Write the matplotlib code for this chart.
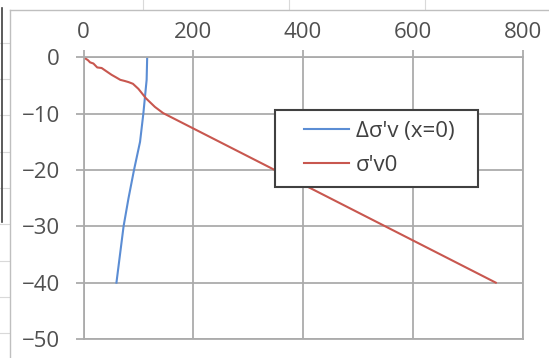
import matplotlib.pyplot as plt
from matplotlib.lines import Line2D
from matplotlib.legend_handler import HandlerLine2D

plt.rcParams["font.family"] = ["Open Sans", "DejaVu Sans"]

# data
blue_label = "Δσ'v (x=0)"
blue_val = [116, 115.5, 115, 112, 109, 103, 92, 82, 73, 66.5, 60]
blue_depth = [0, -2, -4, -7, -10, -15, -20, -25, -30, -35, -40]

red_label = "σ'v0"
red_val = [0, 8, 12, 18, 25, 33, 42, 51, 60, 67, 75, 82, 90, 100, 114, 130, 145, 751]
red_depth = [0, -0.5, -0.9, -1.1, -1.8, -1.9, -2.5, -3.1, -3.6, -4.0, -4.2, -4.4,
             -4.7, -5.6, -7.3, -8.8, -9.9, -40]

xticks = [0, 200, 400, 600, 800]
yticks = [0, -10, -20, -30, -40, -50]

W, H = 549, 358
grid_c = "#ababab"


class ShortLine(HandlerLine2D):
    # Excel leaves a gap before the legend line
    def create_artists(self, legend, orig_handle, xdescent, ydescent,
                       width, height, fontsize, trans):
        yy = (height - ydescent) / 2
        ln = Line2D([width * 0.285 - xdescent, width - xdescent], [yy, yy],
                    color=orig_handle.get_color(), lw=orig_handle.get_linewidth())
        ln.set_transform(trans)
        return [ln]


fig = plt.figure(figsize=(W / 100, H / 100), dpi=100)

# bits of the spreadsheet around the chart
cell_c = "#d9d9d9"
for yy in [43, 79, 115, 152, 188, 224, 261, 297, 333]:
    fig.add_artist(Line2D([0, 9 / W], [1 - yy / H] * 2, color=cell_c, lw=0.8))
for xx in [143, 289, 425]:
    fig.add_artist(Line2D([xx / W] * 2, [1, 1 - 9 / H], color=cell_c, lw=0.8))
fig.add_artist(Line2D([1.5 / W] * 2, [1 - 8 / H, 1 - 222 / H], color="#404040", lw=1.2))
fig.add_artist(Line2D([9.5 / W] * 2, [0, 1 - 10 / H], color="#bfbfbf", lw=1.0))
fig.add_artist(Line2D([9.5 / W, 1], [1 - 10 / H] * 2, color="#bfbfbf", lw=1.0))

x0, x1 = 83.5, 522.7
y0, y1 = 57.3, 339
ax = fig.add_axes([x0 / W, 1 - y1 / H, (x1 - x0) / W, (y1 - y0) / H])

ax.plot(blue_val, blue_depth, color="#5b8dd4", lw=1.5, label=blue_label)
ax.plot(red_val, red_depth, color="#c8574f", lw=1.5, label=red_label)

ax.set_xlim(0, 800)
ax.set_ylim(-50, 0)
ax.set_xticks(xticks)
ax.set_yticks(yticks)
ax.xaxis.tick_top()
ax.grid(True, color=grid_c, lw=1.3)
ax.set_axisbelow(True)
for s in ax.spines.values():
    s.set_color(grid_c)
    s.set_linewidth(1.3)
ax.tick_params(axis="x", length=5, width=1.3, color=grid_c, pad=5,
               labelsize=16, labelcolor="#505050")
ax.tick_params(axis="y", length=6, width=1.3, color=grid_c, pad=11,
               labelsize=16, labelcolor="#505050")

leg = ax.legend(loc="upper left",
                bbox_to_anchor=(275 / W, 1 - 181 / H, 203 / W, 71 / H),
                bbox_transform=fig.transFigure, borderaxespad=0, mode="expand",
                fontsize=16, fancybox=False, framealpha=1,
                handlelength=2.83, handletextpad=0.32, borderpad=0.5,
                labelspacing=0.58, labelcolor="#404040",
                handler_map={Line2D: ShortLine()})
leg.get_frame().set_edgecolor("#404040")
leg.get_frame().set_linewidth(1.5)

fig.savefig("out.png", dpi=100)
